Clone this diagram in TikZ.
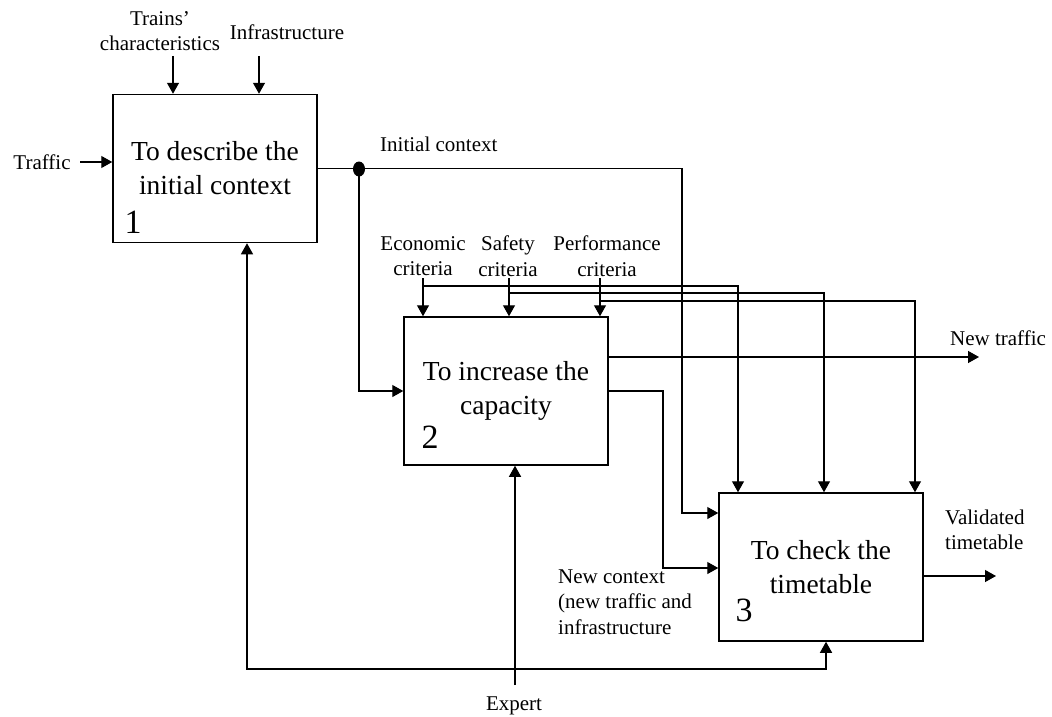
\documentclass[tikz,border=0pt]{standalone}
\usepackage{fontspec}
\setmainfont{Liberation Serif}
\usetikzlibrary{arrows.meta,calc,shapes.geometric}
\newcommand\lblfont{\fontsize{21}{25.5}\selectfont}
\newcommand\boxfont{\fontsize{27.5}{34}\selectfont}
\newcommand\numfont{\fontsize{34}{34}\selectfont}
\begin{document}
\begin{tikzpicture}[x=1pt,y=-1pt,
  proc/.style={draw, line width=1.5pt, minimum width=204pt, minimum height=148pt,
               inner sep=0pt, font=\boxfont, align=center},
  lbl/.style={font=\lblfont, align=center, inner sep=0pt},
  num/.style={font=\numfont, inner sep=0pt},
  wire/.style={line width=1.3pt},
  arr/.style={wire, -{Triangle[length=11pt,width=12pt]}},
  dot/.style={ellipse, fill, inner sep=0pt, minimum width=12pt, minimum height=15pt}]
\useasboundingbox (0,0) rectangle (1052,717);

% activity boxes
\node[proc] (b1) at (215,168.5) {To describe the\\initial context};
\node[proc] (b2) at (506,391) {To increase the\\capacity};
\node[proc] (b3) at (821,567) {To check the\\timetable};
\node[num] (n1) at (133,222) {1};
\node[num] (n2) at (430,437) {2};
\node[num] (n3) at (744,610) {3};

% labels
\node[lbl] (trains) at (160,31) {Trains’\\characteristics};
\node[lbl] (infra) at (287,32) {Infrastructure};
\node[lbl] (traffic) at (42,162) {Traffic};
\node[lbl, anchor=west] (ictx) at (380,144) {Initial context};
\node[lbl] (econ) at (423,256) {Economic\\criteria};
\node[lbl] (safe) at (508,256) {Safety\\criteria};
\node[lbl] (perf) at (607,256) {Performance\\criteria};
\node[lbl] (ntraf) at (998,338) {New traffic};
\node[lbl, align=left, anchor=west] (valid) at (945,530) {Validated\\timetable};
\node[lbl, align=left, anchor=west] (nctx) at (558,602) {New context\\(new traffic and\\infrastructure};
\node[lbl] (expert) at (514,706) {Expert};

% junction of the initial context
\node[dot] (tap) at (359,169) {};

% helper points
\coordinate (trainsIn) at (173,56);
\coordinate (infraIn) at (259,56);
\coordinate (trafficIn) at (80,162);
\coordinate (ctxTurn) at (682,168.5);
\coordinate (ctxIn) at (682,513);
\coordinate (econTop) at (423,278);
\coordinate (safeTop) at (509,278);
\coordinate (perfTop) at (600,278);
\coordinate (econBus) at (423,286);
\coordinate (safeBus) at (509,293);
\coordinate (perfBus) at (600,301);
\coordinate (econDrop) at (738,286);
\coordinate (safeDrop) at (824,293);
\coordinate (perfDrop) at (915,301);
\coordinate (ntY) at (0,357);
\coordinate (ntEnd) at (979,357);
\coordinate (ncTurn) at (663,391);
\coordinate (ncIn) at (663,568);
\coordinate (valOut) at (996,576);
\coordinate (fbL) at (247,669);
\coordinate (fbR) at (826,669);
\coordinate (expIn) at (515,685);

% inputs and controls of box 1
\draw[arr] (trainsIn) -- (trainsIn |- b1.north);
\draw[arr] (infraIn) -- (infraIn |- b1.north);
\draw[arr] (trafficIn) -- (trafficIn -| b1.west);

% initial context
\draw[wire] (b1.east) -- (b1.east -| tap.center);
\draw[arr] (b1.east -| tap.center) -- (ctxTurn) -- (ctxIn) -- (ctxIn -| b3.west);
\draw[arr] (tap.center) |- (b2.west);

% criteria
\draw[arr] (econTop) -- (econTop |- b2.north);
\draw[arr] (safeTop) -- (safeTop |- b2.north);
\draw[arr] (perfTop) -- (perfTop |- b2.north);
\draw[arr] (econBus) -- (econDrop) -- (econDrop |- b3.north);
\draw[arr] (safeBus) -- (safeDrop) -- (safeDrop |- b3.north);
\draw[arr] (perfBus) -- (perfDrop) -- (perfDrop |- b3.north);

% outputs of box 2
\draw[arr] (ntY -| b2.east) -- (ntEnd);
\draw[arr] (b2.east) -- (ncTurn) -- (ncIn) -- (ncIn -| b3.west);

% output of box 3
\draw[arr] (valOut -| b3.east) -- (valOut);

% feedback loop and expert
\draw[wire, {Triangle[length=11pt,width=12pt]}-{Triangle[length=11pt,width=12pt]}]
  (fbR |- b3.south) -- (fbR) -- (fbL) -- (fbL |- b1.south);
\draw[arr] (expIn) -- (expIn |- b2.south);
\end{tikzpicture}
\end{document}
